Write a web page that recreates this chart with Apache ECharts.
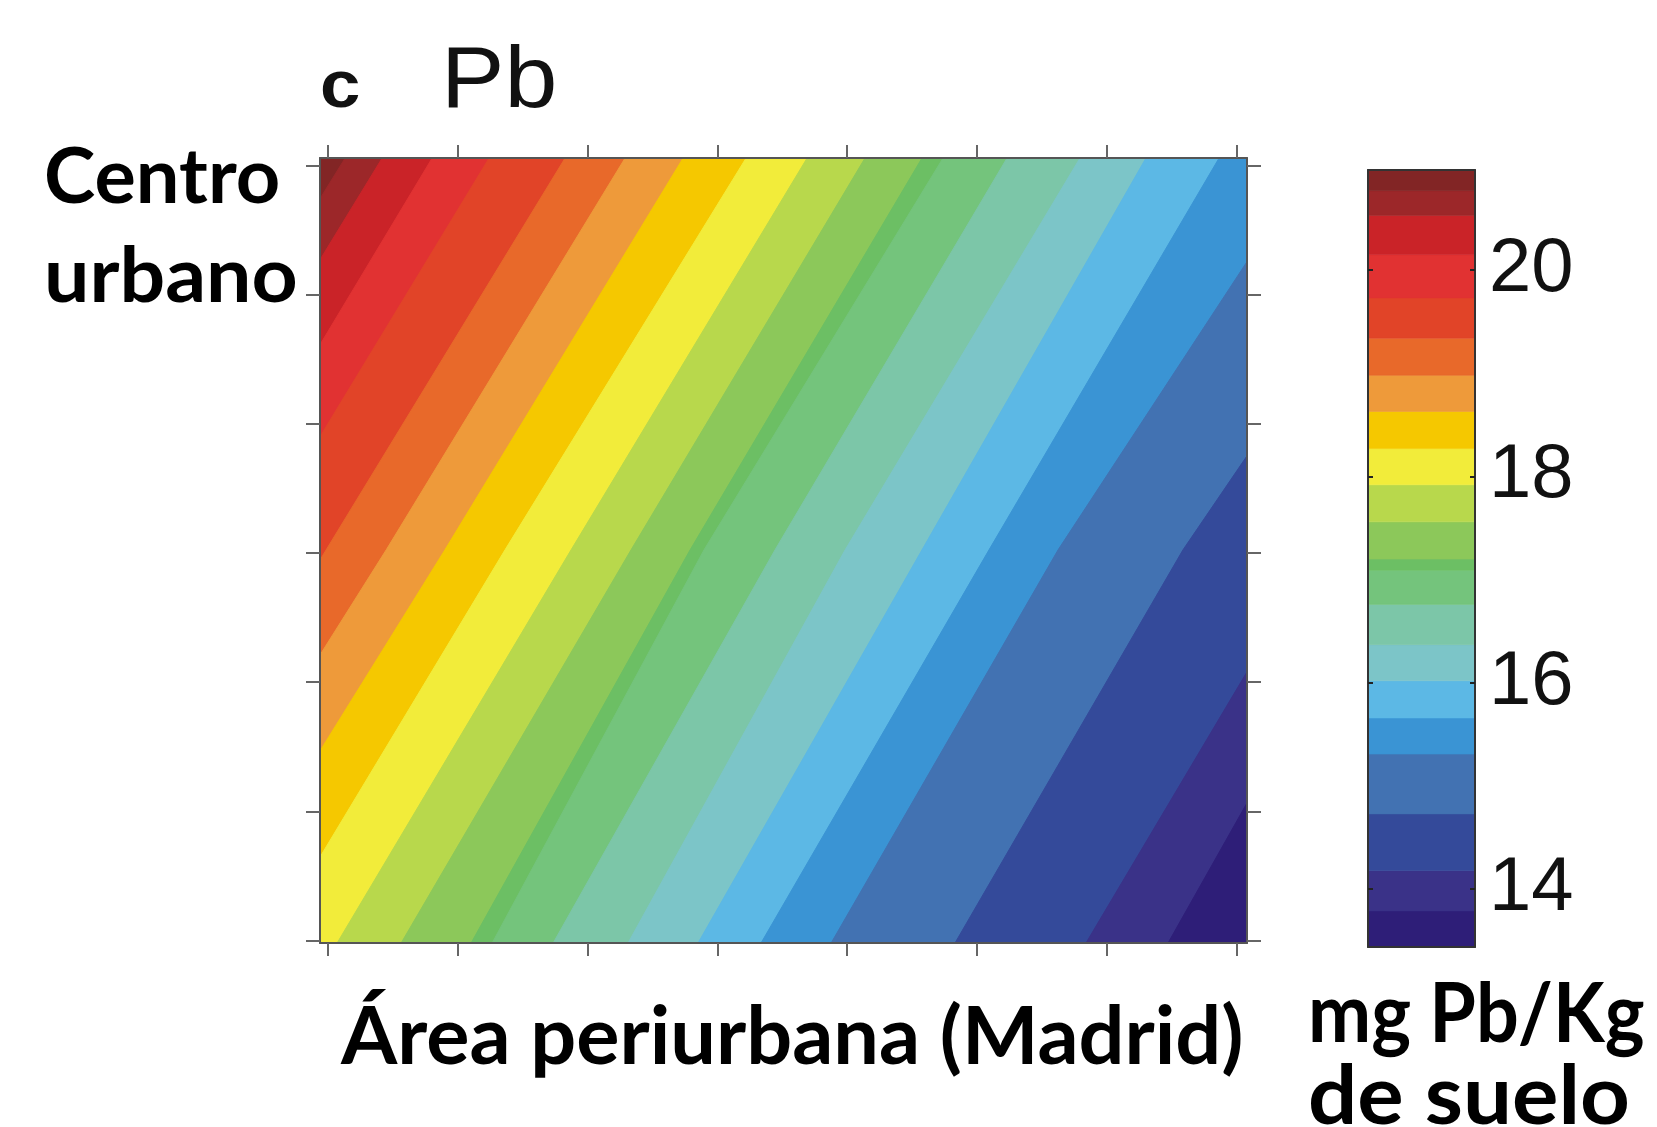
<!DOCTYPE html>
<html><head><meta charset="utf-8">
<script src="https://cdn.jsdelivr.net/npm/echarts@6/dist/echarts.min.js"></script>
<style>html,body{margin:0;padding:0;background:#fff}#c{width:1657px;height:1127px}</style>
</head><body><div id="c"></div>
<script>
// ---- axis ticks (unlabelled in the original) ----
const xTicks = [0, 1, 2, 3, 4, 5, 6, 7];
const yTicks = [0, 1, 2, 3, 4, 5, 6];
const X_MIN = -0.06, X_MAX = 7.08, Y_MIN = -0.02, Y_MAX = 6.06;

// ---- colour scale (mg Pb/Kg de suelo) ----
const colorbarTicks = [14, 16, 18, 20];
const bandEdges = [13.44, 13.79, 14.18, 14.73, 15.31, 15.66, 16.02, 16.37, 16.76, 17.09, 17.20,
                   17.56, 17.92, 18.27, 18.63, 18.98, 19.34, 19.73, 20.15, 20.53, 20.77, 20.97];
const bandColors = ['#2E1E78', '#3A3288', '#344A9A', '#4272B2', '#3A94D4', '#5CB8E5', '#7CC5C8',
                    '#7CC6A8', '#74C47C', '#6CBF64', '#8CC85A', '#B8D84C', '#F2EC3A', '#F5C800',
                    '#EE9A3A', '#E8692A', '#E14428', '#E13232', '#CA2328', '#9C2729', '#822525'];

// ---- contour lines (level, path from lower-left edge to upper-right edge) ----
const contourLevels = [20.77, 20.53, 20.15, 19.73, 19.34, 18.98, 18.63, 18.27, 17.92, 17.56,
                       17.20, 17.09, 16.76, 16.37, 16.02, 15.66, 15.31, 14.73, 14.18, 13.79];
const contourPaths = [
  [[-0.06, 5.745], [0.134, 6.06]],
  [[-0.06, 5.272], [0.419, 6.06]],
  [[-0.06, 4.614], [0.804, 6.06]],
  [[-0.06, 3.901], [1.243, 6.06]],
  [[-0.06, 2.947], [1.828, 6.06]],
  [[-0.06, 2.211], [0.450, 3.025], [2.290, 6.06]],
  [[-0.06, 1.468], [0.902, 3.025], [2.737, 6.06]],
  [[-0.06, 0.646], [1.365, 3.025], [3.222, 6.06]],
  [[0.072, -0.02], [1.874, 3.025], [3.692, 6.06]],
  [[0.565, -0.02], [2.336, 3.025], [4.138, 6.06]],
  [[1.104, -0.02], [2.791, 3.025], [4.577, 6.06]],
  [[1.266, -0.02], [2.898, 3.025], [4.739, 6.06]],
  [[1.736, -0.02], [3.445, 3.025], [5.232, 6.06]],
  [[2.313, -0.02], [3.985, 3.025], [5.794, 6.06]],
  [[2.852, -0.02], [4.577, 3.025], [6.302, 6.06]],
  [[3.337, -0.02], [5.093, 3.025], [6.865, 6.06]],
  [[3.877, -0.02], [5.625, 3.025], [7.08, 5.257]],
  [[4.831, -0.02], [6.587, 3.025], [7.08, 3.753]],
  [[5.840, -0.02], [7.08, 2.080]],
  [[6.472, -0.02], [7.08, 1.065]]
];

const FRAME = '#555';
const chart = echarts.init(document.getElementById('c'), null, { renderer: 'canvas' });

function renderContour(params, api) {
  const i = params.dataIndex;
  const path = contourPaths[i];
  const first = path[0], last = path[path.length - 1];
  const ring = path.slice();
  if (Math.abs(last[1] - Y_MAX) < 1e-9) ring.push([X_MAX, Y_MAX]);
  ring.push([X_MAX, Y_MIN]);
  if (Math.abs(first[0] - X_MIN) < 1e-9) ring.push([X_MIN, Y_MIN]);
  const color = bandColors[bandEdges.indexOf(contourLevels[i]) - 1];
  return {
    type: 'polygon',
    shape: { points: ring.map(p => api.coord(p)) },
    style: { fill: color, stroke: color, lineWidth: 1 }
  };
}

function renderBand(params, api) {
  const lo = api.value(1), hi = api.value(2);
  const p1 = api.coord([0, hi]);
  const p2 = api.coord([1, lo]);
  const c = bandColors[params.dataIndex];
  return {
    type: 'rect',
    shape: { x: p1[0], y: p1[1], width: p2[0] - p1[0], height: p2[1] - p1[1] },
    style: { fill: c, stroke: c, lineWidth: 0.6 }
  };
}

const plotAxisX = pos => ({
  gridIndex: 0, type: 'value', min: X_MIN, max: X_MAX, position: pos, z: 10,
  axisLine: { show: true, onZero: false, lineStyle: { color: FRAME, width: 2 } },
  axisTick: { show: true, customValues: xTicks, length: 13, lineStyle: { color: '#666', width: 2 } },
  axisLabel: { show: false }, splitLine: { show: false }
});
const plotAxisY = pos => ({
  gridIndex: 0, type: 'value', min: Y_MIN, max: Y_MAX, position: pos, z: 10,
  axisLine: { show: true, onZero: false, lineStyle: { color: FRAME, width: 2 } },
  axisTick: { show: true, customValues: yTicks, length: 14, lineStyle: { color: '#666', width: 2 } },
  axisLabel: { show: false }, splitLine: { show: false }
});
const cbAxisX = pos => ({
  gridIndex: 1, type: 'value', min: 0, max: 1, position: pos, z: 10,
  axisLine: { show: true, onZero: false, lineStyle: { color: '#333', width: 2 } },
  axisTick: { show: false }, axisLabel: { show: false }, splitLine: { show: false }
});
const cbAxisY = (pos, labels) => ({
  gridIndex: 1, type: 'value', min: bandEdges[0], max: bandEdges[bandEdges.length - 1], position: pos, z: 10,
  axisLine: { show: true, onZero: false, lineStyle: { color: '#333', width: 2 } },
  axisTick: { show: true, inside: true, customValues: colorbarTicks, length: 5, lineStyle: { color: '#222', width: 2 } },
  axisLabel: labels ? { show: true, customValues: colorbarTicks, fontSize: 76, fontFamily: 'Liberation Sans', color: '#111', margin: 14 } : { show: false },
  splitLine: { show: false }
});

const TXT = 'Lato';
const label = (text, x, y, font, sx, fill) => ({
  type: 'text', x: x, y: y, scaleX: sx, silent: true,
  style: { text: text, font: font, fill: fill, textAlign: 'left', textVerticalAlign: 'middle' }
});

chart.setOption({
  animation: false,
  backgroundColor: '#ffffff',
  grid: [
    { left: 320, top: 158, width: 927, height: 785, show: true, backgroundColor: bandColors[bandColors.length - 1], borderWidth: 0 },
    { left: 1368, top: 170, width: 107, height: 777 }
  ],
  xAxis: [plotAxisX('bottom'), plotAxisX('top'), cbAxisX('bottom'), cbAxisX('top')],
  yAxis: [plotAxisY('left'), plotAxisY('right'), cbAxisY('left', false), cbAxisY('right', true)],
  series: [
    {
      type: 'custom', name: 'Pb', xAxisIndex: 0, yAxisIndex: 0, z: 2,
      renderItem: renderContour,
      data: contourLevels.map((lv, i) => [i, lv]),
      silent: true
    },
    {
      type: 'custom', name: 'colorbar', xAxisIndex: 2, yAxisIndex: 2, z: 2,
      renderItem: renderBand,
      data: bandColors.map((c, i) => [0.5, bandEdges[i], bandEdges[i + 1]]),
      encode: { x: 0, y: [1, 2] },
      silent: true
    }
  ],
  graphic: [
    label('c', 320, 89, 'bold 66px "Liberation Sans"', 1.1, '#111'),
    label('Pb', 441, 83, '88px "Liberation Sans"', 1.08, '#111'),
    label('Centro', 44, 178, 'bold 76px ' + TXT, 1.02, '#000'),
    label('urbano', 44, 277, 'bold 76px ' + TXT, 1.06, '#000'),
    label('Área periurbana (Madrid)', 341, 1038, 'bold 81px ' + TXT, 1.0, '#000'),
    label('mg Pb/Kg', 1308, 1016, 'bold 82px ' + TXT, 0.92, '#000'),
    label('de suelo', 1308, 1098, 'bold 82px ' + TXT, 1.06, '#000')
  ]
});
</script>
</body></html>
